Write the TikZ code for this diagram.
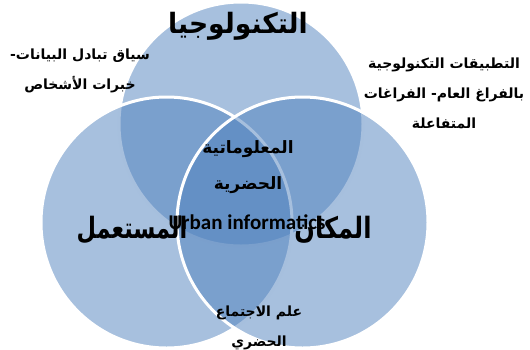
\documentclass[tikz,border=0pt]{standalone}
\usepackage{fontspec}
\TeXXeTstate=1
\setmainfont{Carlito}
\newfontfamily\arabicfont[Script=Arabic]{DejaVu Sans}
\newcommand\arl[1]{\beginR #1\endR}
\definecolor{venn}{HTML}{4F81BD}
\tikzset{
  vcircle/.style={circle, fill=venn, fill opacity=0.5, draw=white, draw opacity=1, line width=3pt, inner sep=0pt},
  smalllbl/.style={align=center, inner sep=0pt, font=\arabicfont\bfseries\fontsize{14}{30}\selectfont},
  biglbl/.style={inner sep=0pt, font=\arabicfont\bfseries\fontsize{28}{32}\selectfont},
  midlbl/.style={align=center, inner sep=0pt, font=\arabicfont\bfseries\fontsize{17}{36}\selectfont},
  enlbl/.style={inner sep=0pt, font=\bfseries\fontsize{21}{24}\selectfont}
}
\begin{document}
\begin{tikzpicture}[x=1pt,y=-1pt]
\useasboundingbox (0,0) rectangle (530,349);
\node[vcircle, minimum size=244pt] (top) at (241,124) {};
\node[vcircle, minimum size=251pt] (left) at (166.5,222.5) {};
\node[vcircle, minimum size=251pt] (right) at (302.5,222.5) {};
\node[biglbl] (tech) at (238,26) {\scalebox{0.95}[1]{\arl{التكنولوجيا}}};
\node[biglbl] (user) at (132,230) {\scalebox{0.8}[1.05]{\arl{المستعمل}}};
\node[biglbl] (place) at (333,230) {\scalebox{0.86}[1.05]{\arl{المكان}}};
\node[smalllbl] (ctx) at (80,71) {\arl{سياق تبادل البيانات-}\\\arl{خبرات الأشخاص}};
\node[smalllbl] (apps) at (444,93) {\arl{التطبيقات التكنولوجية}\\\arl{بالفراغ العام- الفراغات}\\\arl{المتفاعلة}};
\node[midlbl] (urb) at (248,167) {\arl{المعلوماتية}\\\arl{الحضرية}};
\node[enlbl, anchor=base] (eng) at (247,229) {Urban informatics};
\node[smalllbl] (soc) at (259,328) {\arl{علم الاجتماع}\\\arl{الحضري}};
\end{tikzpicture}
\end{document}
